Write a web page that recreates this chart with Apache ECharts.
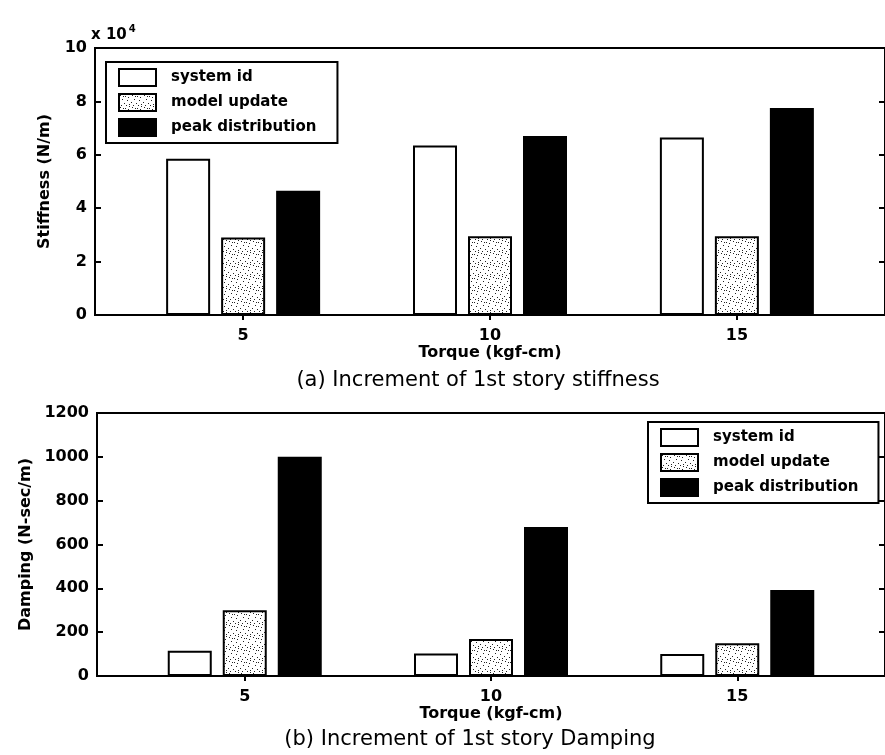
<!DOCTYPE html>
<html>
<head>
<meta charset="utf-8">
<script src="https://cdn.jsdelivr.net/npm/echarts@6/dist/echarts.min.js"></script>
<style>
html,body{margin:0;padding:0;background:#fff;}
#chart{width:885px;height:755px;}
</style>
</head>
<body>
<div id="chart"></div>
<script>
// ---- data ----
var torques = [5, 10, 15];
var tickTorques = [5, 10, 15];
var seriesNames = ['system id', 'model update', 'peak distribution'];
// Stiffness in units of 10^4 N/m
var stiffSystemId = [5.85, 6.35, 6.65];
var stiffModelUpdate = [2.9, 2.95, 2.95];
var stiffPeak = [4.65, 6.7, 7.75];
// Damping in N-sec/m
var dampSystemId = [115, 103, 100];
var dampModelUpdate = [300, 169, 150];
var dampPeak = [1000, 680, 392];

// ---- stipple pattern ----
var pc = document.createElement('canvas');
pc.width = 12; pc.height = 12;
var ctx = pc.getContext('2d');
ctx.fillStyle = '#fff'; ctx.fillRect(0, 0, 12, 12);
ctx.fillStyle = '#222';
[[1,1],[6,2],[10,0],[3,5],[8,6],[0,8],[5,9],[10,10],[2,11],[9,3],[7,11],[4,2]].forEach(function(p){ ctx.fillRect(p[0], p[1], 1, 1); });
var stipple = { image: pc, repeat: 'repeat' };

var styles = [
  { color: '#fff', borderColor: '#000', borderWidth: 2 },
  { color: stipple, borderColor: '#000', borderWidth: 2 },
  { color: '#000', borderColor: '#000', borderWidth: 2 }
];

function pairs(vals) { return torques.map(function (t, i) { return [t, vals[i]]; }); }

var FONT = 'DejaVu Sans';
var tickLabel = { color: '#000', fontFamily: FONT, fontWeight: 'bold', fontSize: 16, formatter: function (v) { return String(v); } };

function xAxes(gridIndex) {
  return [{
    gridIndex: gridIndex, type: 'value', min: 2, max: 18, position: 'bottom',
    name: 'Torque (kgf-cm)', nameLocation: 'middle', nameGap: 30,
    nameTextStyle: { color: '#000', fontFamily: FONT, fontWeight: 'bold', fontSize: 16 },
    axisLine: { show: true, lineStyle: { color: '#000', width: 2 } },
    axisTick: { show: true, inside: true, length: 5, customValues: tickTorques, lineStyle: { color: '#000', width: 2 } },
    axisLabel: Object.assign({ margin: 13, customValues: tickTorques }, tickLabel),
    splitLine: { show: false }
  }, {
    gridIndex: gridIndex, type: 'value', min: 2, max: 18, position: 'top',
    axisLine: { show: true, lineStyle: { color: '#000', width: 2 } },
    axisTick: { show: true, inside: true, length: 5, customValues: tickTorques, lineStyle: { color: '#000', width: 2 } },
    axisLabel: { show: false },
    splitLine: { show: false }
  }];
}
function yAxes(gridIndex, max, interval, name, nameGap) {
  return [{
    gridIndex: gridIndex, type: 'value', min: 0, max: max, interval: interval, position: 'left',
    name: name, nameLocation: 'middle', nameGap: nameGap,
    nameTextStyle: { color: '#000', fontFamily: FONT, fontWeight: 'bold', fontSize: 16 },
    axisLine: { show: true, lineStyle: { color: '#000', width: 2 } },
    axisTick: { show: true, inside: true, length: 6, lineStyle: { color: '#000', width: 2 } },
    axisLabel: Object.assign({ margin: 8 }, tickLabel),
    splitLine: { show: false }
  }, {
    gridIndex: gridIndex, type: 'value', min: 0, max: max, interval: interval, position: 'right',
    axisLine: { show: true, lineStyle: { color: '#000', width: 2 } },
    axisTick: { show: true, inside: true, length: 6, lineStyle: { color: '#000', width: 2 } },
    axisLabel: { show: false },
    splitLine: { show: false }
  }];
}

function barSeries(xi, yi, vals, k) {
  return {
    name: seriesNames[k], type: 'bar', xAxisIndex: xi, yAxisIndex: yi,
    data: pairs(vals), barWidth: 44, barGap: '25%',
    itemStyle: styles[k], emphasis: { disabled: true }
  };
}

function legend(left, top, padRight) {
  return {
    orient: 'vertical', left: left, top: top,
    data: seriesNames, itemWidth: 37, itemHeight: 17, itemGap: 6,
    padding: [6, padRight, 6, 12],
    borderColor: '#000', borderWidth: 2, backgroundColor: '#fff',
    selectedMode: false, icon: 'rect',
    textStyle: { color: '#000', fontFamily: FONT, fontWeight: 'bold', fontSize: 15, lineHeight: 17, padding: [0, 0, 0, 10] }
  };
}

var chart = echarts.init(document.getElementById('chart'), null, { renderer: 'canvas' });
chart.setOption({
  backgroundColor: '#fff',
  animation: false,
  grid: [
    { left: 95, right: -2, top: 48, height: 267, show: true, borderColor: '#000', borderWidth: 2, backgroundColor: 'transparent' },
    { left: 97, right: -2, top: 413, height: 263, show: true, borderColor: '#000', borderWidth: 2, backgroundColor: 'transparent' }
  ],
  xAxis: xAxes(0).concat(xAxes(1)),
  yAxis: yAxes(0, 10, 2, 'Stiffness (N/m)', 42).concat(yAxes(1, 1200, 200, 'Damping (N-sec/m)', 55)),
  legend: [legend(106, 62, 21), legend(648, 422, 20)],
  series: [
    barSeries(0, 0, stiffSystemId, 0),
    barSeries(0, 0, stiffModelUpdate, 1),
    barSeries(0, 0, stiffPeak, 2),
    barSeries(2, 2, dampSystemId, 0),
    barSeries(2, 2, dampModelUpdate, 1),
    barSeries(2, 2, dampPeak, 2)
  ],
  graphic: [
    { type: 'text', left: 91, top: 24, style: { text: '{a|x 10}{b|4}', rich: {
        a: { fontFamily: FONT, fontWeight: 'bold', fontSize: 15, fill: '#000' },
        b: { fontFamily: FONT, fontWeight: 'bold', fontSize: 10, fill: '#000', padding: [0, 0, 12, 2] } } } },
    { type: 'text', x: 478, y: 381, style: { text: '(a) Increment of 1st story stiffness', fontFamily: FONT, fontSize: 21, fill: '#000', textAlign: 'center', textVerticalAlign: 'middle' } },
    { type: 'text', x: 470, y: 740, style: { text: '(b) Increment of 1st story Damping', fontFamily: FONT, fontSize: 21, fill: '#000', textAlign: 'center', textVerticalAlign: 'middle' } }
  ]
});
</script>
</body>
</html>
